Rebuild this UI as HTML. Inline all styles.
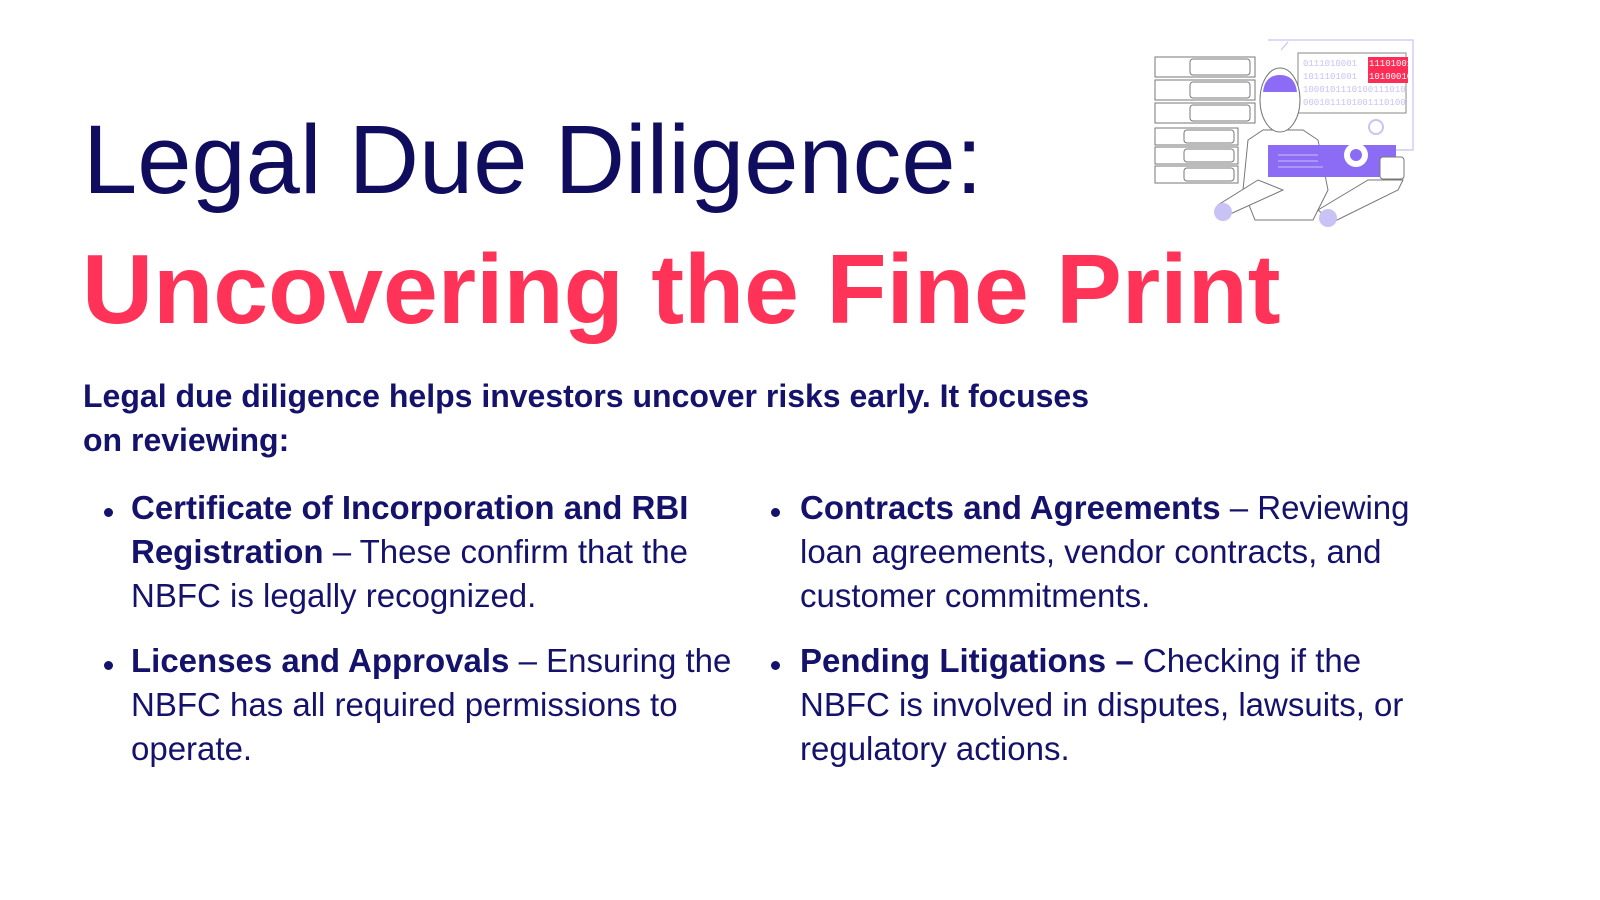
<!DOCTYPE html>
<html><head><meta charset="utf-8"><style>
body{margin:0;width:1600px;height:900px;background:#fff;position:relative;overflow:hidden;font-family:"Liberation Sans",sans-serif;color:#14126b}
.a{position:absolute;white-space:nowrap}
.t1{left:83px;top:104px;font-size:97.5px;color:#100c5e}
.t2{left:82px;top:233px;font-size:98.5px;font-weight:bold;color:#ff3358;letter-spacing:0}
.intro{left:83px;font-size:32px;font-weight:bold}
.l{font-size:33px}
b{font-weight:bold}
.dot{position:absolute;width:9px;height:9px;border-radius:50%;background:#14126b}
</style></head><body>
<div class="a t1">Legal Due Diligence:</div>
<div class="a t2">Uncovering the Fine Print</div>
<div class="a intro" style="top:378px">Legal due diligence helps investors uncover risks early. It focuses</div>
<div class="a intro" style="top:422px">on reviewing:</div>

<div class="dot" style="left:104px;top:508px"></div>
<div class="a l" style="left:131px;top:489px"><b>Certificate of Incorporation and RBI</b></div>
<div class="a l" style="left:131px;top:533px"><b>Registration</b> – These confirm that the</div>
<div class="a l" style="left:131px;top:577px">NBFC is legally recognized.</div>

<div class="dot" style="left:104px;top:661px"></div>
<div class="a l" style="left:131px;top:642px"><b>Licenses and Approvals</b> – Ensuring the</div>
<div class="a l" style="left:131px;top:686px">NBFC has all required permissions to</div>
<div class="a l" style="left:131px;top:730px">operate.</div>

<div class="dot" style="left:771px;top:508px"></div>
<div class="a l" style="left:800px;top:489px"><b>Contracts and Agreements</b> – Reviewing</div>
<div class="a l" style="left:800px;top:533px">loan agreements, vendor contracts, and</div>
<div class="a l" style="left:800px;top:577px">customer commitments.</div>

<div class="dot" style="left:771px;top:661px"></div>
<div class="a l" style="left:800px;top:642px"><b>Pending Litigations –</b> Checking if the</div>
<div class="a l" style="left:800px;top:686px">NBFC is involved in disputes, lawsuits, or</div>
<div class="a l" style="left:800px;top:730px">regulatory actions.</div>

<svg class="a" style="left:1108px;top:30px" width="320" height="200" viewBox="0 0 300 200">
<g fill="none" stroke="#c9c2f5" stroke-width="1.2">
<path d="M150 10 H295 V120 H280"/><path d="M163 20 L170 12"/><path d="M275 120 H290"/>
</g>
<rect x="180" y="23" width="108" height="60" fill="#fff" stroke="#888" stroke-width="1"/>
<rect x="250" y="27" width="40" height="26" fill="#ff2d55"/>
<g font-family="Liberation Mono,monospace" font-size="9" fill="#c9c2f5">
<text x="185" y="36">0111010001</text><text x="185" y="49">1011101001</text>
<text x="185" y="62">1000101110100111010</text><text x="185" y="75">0001011101001110100</text>
<text x="251" y="36" fill="#fff">11101001</text><text x="251" y="49" fill="#fff">10100010</text>
</g>
<g fill="#fff" stroke="#777" stroke-width="1">
<rect x="37" y="27" width="100" height="20"/><rect x="37" y="50" width="100" height="20"/><rect x="37" y="73" width="100" height="20"/>
<rect x="37" y="98" width="83" height="17"/><rect x="37" y="117" width="83" height="17"/><rect x="37" y="136" width="83" height="17"/>
<rect x="72" y="29" width="60" height="16" rx="3"/><rect x="72" y="52" width="60" height="16" rx="3"/><rect x="72" y="75" width="60" height="16" rx="3"/>
<rect x="66" y="100" width="50" height="13" rx="3"/><rect x="66" y="119" width="50" height="13" rx="3"/><rect x="66" y="138" width="50" height="13" rx="3"/>
</g>
<g fill="#fff" stroke="#777"><path d="M130 110 L145 100 H185 L200 110 L210 160 L195 190 H137 L125 160 Z"/>
<ellipse cx="162" cy="70" rx="20" ry="32"/></g>
<path d="M145 62 Q147 45 162 45 Q177 45 179 62 Z" fill="#8c6cf5"/>
<rect x="150" y="115" width="128" height="32" fill="#8c6cf5"/>
<circle cx="238" cy="125" r="12" fill="#fff"/><circle cx="238" cy="125" r="6" fill="#8c6cf5"/>
<g stroke="#c9c2f5"><line x1="160" y1="125" x2="200" y2="125"/><line x1="160" y1="131" x2="200" y2="131"/><line x1="160" y1="137" x2="205" y2="137"/></g>
<g fill="#fff" stroke="#777"><path d="M140 150 L100 175 L110 185 L165 160 Z"/><path d="M200 180 L250 150 H285 L280 160 L215 192 Z"/><rect x="262" y="127" width="24" height="22" rx="3"/></g>
<circle cx="105" cy="182" r="9" fill="#c9c2f5"/><circle cx="210" cy="188" r="9" fill="#c9c2f5"/>
<circle cx="258" cy="97" r="7" fill="none" stroke="#c9c2f5" stroke-width="2"/>
</svg>
</body></html>
